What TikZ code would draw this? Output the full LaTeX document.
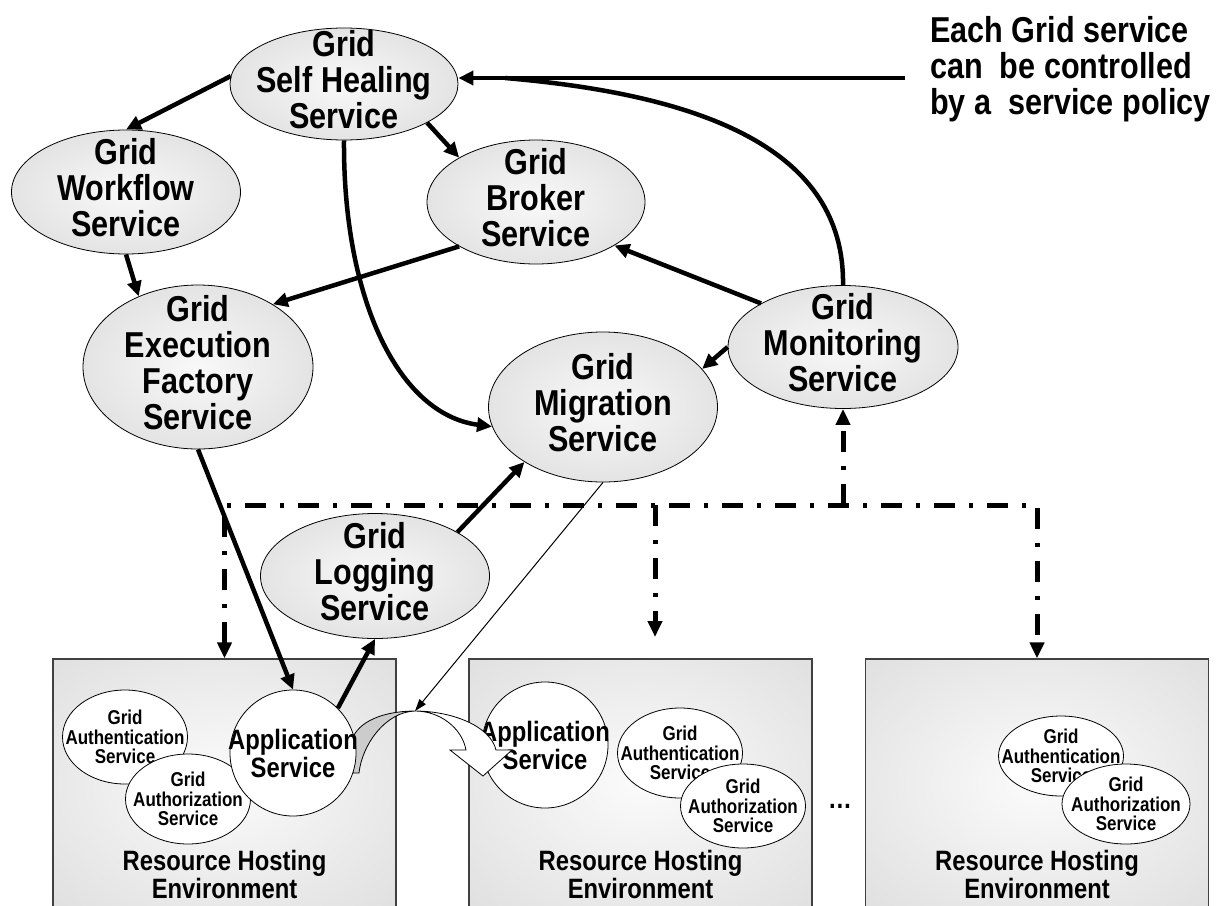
\documentclass[tikz,border=0pt]{standalone}
\usepackage{fontspec}
\setmainfont{Liberation Sans}[FakeStretch=0.85]
\usetikzlibrary{shapes.geometric,arrows.meta,positioning}
\pgfdeclareradialshading{svcshade}{\pgfpoint{0bp}{0bp}}{color(0bp)=(gray!5); color(50bp)=(gray!38)}
\pgfdeclareradialshading{hostshade}{\pgfpoint{0bp}{0bp}}{color(0bp)=(gray!3); color(45bp)=(gray!30); color(75bp)=(gray!30)}

\begin{document}
\begin{tikzpicture}[x=1pt,y=-1pt,
  svc/.style={ellipse,draw,line width=0.8pt,shading=svcshade,minimum width=229pt,minimum height=124pt,
    inner sep=-30pt,text depth=10pt,align=center,font=\fontsize{36}{36}\selectfont\bfseries},
  sub/.style={ellipse,draw,fill=white,line width=0.8pt,minimum width=125pt,minimum height=86pt,
    inner sep=-40pt,align=center,font=\fontsize{20}{19.5}\selectfont\bfseries},
  app/.style={circle,draw,fill=white,line width=0.8pt,minimum size=126pt,
    inner sep=-45pt,align=center,font=\fontsize{28}{28}\selectfont\bfseries},
  host/.style={rectangle,draw=black!75,line width=1.2pt,shading=hostshade,minimum width=343pt,minimum height=248pt},
  hostlbl/.style={align=center,inner sep=0pt,font=\fontsize{28}{26}\selectfont\bfseries},
  flow/.style={line width=4.5pt,>={Triangle[length=15pt,width=14pt]},->},
  ctrl/.style={line width=5pt,dash pattern=on 21pt off 14pt on 4pt off 14pt,>={Triangle[length=16pt,width=14pt]}}]
\useasboundingbox (0,0) rectangle (1217,905);

\node[host] (host1) at (224.5,783) {};
\node[host] (host2) at (640.5,783) {};
\node[host] (host3) at (1037,783) {};
\node[hostlbl,above=9pt of host1.south] (env1) {Resource Hosting\\Environment};
\node[hostlbl,above=9pt of host2.south] (env2) {Resource Hosting\\Environment};
\node[hostlbl,above=9pt of host3.south] (env3) {Resource Hosting\\Environment};

\node[sub,minimum height=94pt] (authn1) at (125,737) {Grid\\Authentication\\Service};
\node[sub,minimum height=90pt] (authz1) at (188,799) {Grid\\Authorization\\Service};
\node[app] (app2) at (545,745) {Application\\Service};
\node[sub,minimum height=90pt] (authn2) at (680,753) {Grid\\Authentication\\Service};
\node[sub,minimum height=84pt] (authz2) at (743,806) {Grid\\Authorization\\Service};
\node[sub,minimum height=80pt] (authn3) at (1061,756) {Grid\\Authentication\\Service};
\node[sub,minimum width=128pt,minimum height=80pt] (authz3) at (1126,804) {Grid\\Authorization\\Service};
\node[font=\fontsize{28}{28}\selectfont\bfseries] (dots) at (840,806) {…};

\coordinate (hop) at (415,711);
\draw[line width=0.8pt,fill=gray!40] (hop) .. controls (390,711) and (362,718) .. (353,737)
  -- (353,773) -- (359,773) .. controls (362,745) and (385,712) .. (hop);
\draw[line width=0.8pt,fill=white] (hop) .. controls (440,711) and (462,728) .. (466,750)
  -- (450,750) -- (483,776) -- (512,750) -- (496,750) .. controls (490,725) and (450,711) .. (hop);
\node[app] (app1) at (293,753) {Application\\Service};

\node[svc,minimum width=228pt,minimum height=112pt] (heal) at (344,84) {Grid\\Self Healing\\Service};
\node[svc] (workflow) at (126,192) {Grid\\Workflow\\Service};
\node[svc,minimum width=218pt] (broker) at (536,202) {Grid\\Broker\\Service};
\node[svc,minimum width=230pt,minimum height=164pt] (exec) at (198,367) {Grid\\Execution\\Factory\\Service};
\node[svc,minimum height=150pt] (migrate) at (603,407) {Grid\\Migration\\Service};
\node[svc,minimum width=230pt,minimum height=123pt] (monitor) at (843,347) {Grid\\Monitoring\\Service};
\node[svc,minimum height=125pt] (logging) at (375,576) {Grid\\Logging\\Service};

\node[anchor=north west,align=left,inner sep=0pt,font=\fontsize{36}{36}\selectfont\bfseries] (policy)
  at (930,16) {Each Grid service\\can\ \ be controlled\\by a\ \ service policy};
\coordinate (policytail) at (905,78);
\coordinate (merge) at (505,78);

\draw[flow] (policytail) -- (policytail -| heal.east);
\draw[line width=4.5pt] (monitor.north) .. controls +(2,-135) and +(200,17) .. (merge);
\draw[flow] (heal.176) -- (workflow.north);
\draw[flow] (heal.335) -- (broker.150);
\draw[flow] (workflow.south) -- (exec.130);
\draw[flow] (broker.210) -- (exec.40);
\draw[flow] (heal.south) .. controls +(-1,160) and +(-93,-12) .. (migrate.190);
\draw[flow] (monitor.152) -- (broker.331);
\draw[flow] (monitor.west) -- (migrate.21);
\draw[flow] (exec.south) -- (app1.north);
\draw[flow] (app1.45) -- (logging.south);
\draw[flow] (logging.28) -- (migrate.215);
\draw[line width=1pt,-{Triangle[length=12pt,width=8pt]}] (migrate.south) -- (hop);

\coordinate (busmid) at (655,505);
\coordinate (midend) at (655,637);
\draw[ctrl,<->] (host1.north) -- (host1.north |- busmid) -- (host3.north |- busmid) -- (host3.north);
\draw[ctrl,->] (busmid) -- (midend);
\draw[ctrl,->] (monitor.south |- busmid) -- (monitor.south);
\end{tikzpicture}
\end{document}
